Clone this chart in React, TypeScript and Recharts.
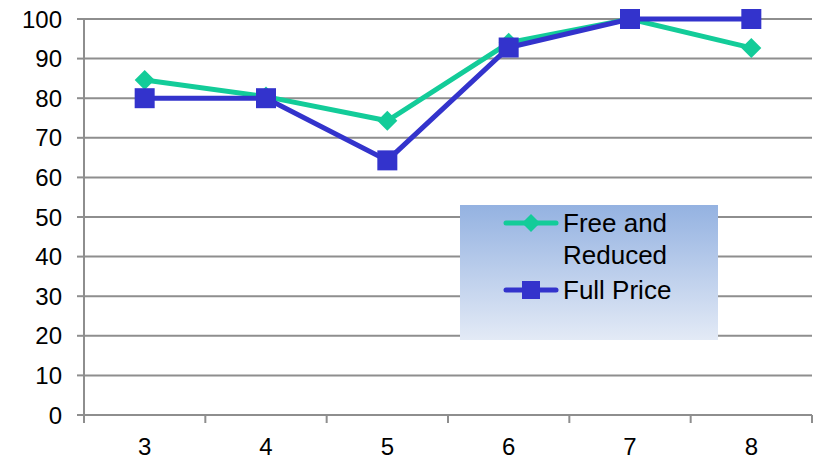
import { CartesianGrid, Legend, Line, LineChart, XAxis, YAxis } from "recharts";

const grades = [3, 4, 5, 6, 7, 8];
const freeReduced = [84.6, 80.4, 74.3, 94, 100, 92.7];
const fullPrice = [80, 80, 64.3, 92.8, 100, 100];
const yTicks = [0, 10, 20, 30, 40, 50, 60, 70, 80, 90, 100];
const gradeEdges = [2.5, 3.5, 4.5, 5.5, 6.5, 7.5, 8.5];

const green = "#13CC99";
const blue = "#3333CC";
const gridColor = "#8e8e8e";

const data = grades.map((g, i) => ({
  grade: g,
  free: freeReduced[i],
  full: fullPrice[i],
}));

const Diamond = (props: any) => {
  const { cx, cy, fill, size = 10 } = props;
  if (cx == null || cy == null) return null;
  return (
    <polygon
      points={`${cx},${cy - size} ${cx + size},${cy} ${cx},${cy + size} ${cx - size},${cy}`}
      fill={fill}
    />
  );
};

const Square = (props: any) => {
  const { cx, cy, fill, size = 10 } = props;
  if (cx == null || cy == null) return null;
  return <rect x={cx - size} y={cy - size} width={size * 2} height={size * 2} fill={fill} />;
};

const series = [
  { key: "free", name: "Free and Reduced", color: green, Marker: Diamond, legendSize: 9 },
  { key: "full", name: "Full Price", color: blue, Marker: Square, legendSize: 9 },
];

const LegendBox = () => (
  <div
    style={{
      width: 258,
      height: 135,
      boxSizing: "border-box",
      paddingTop: 2,
      paddingLeft: 43,
      background: "linear-gradient(to bottom, #94B2E1, #E3EAF6)",
      fontFamily: "'Liberation Sans', Arial, sans-serif",
      fontSize: 26,
      lineHeight: "32px",
      color: "#000",
    }}
  >
    {series.map((s, i) => (
      <div key={s.key} style={{ display: "flex", alignItems: "flex-start", marginTop: i ? 3 : 0 }}>
        <svg width={56} height={32} style={{ flex: "none" }}>
          <line x1={3} y1={16} x2={53} y2={16} stroke={s.color} strokeWidth={5} strokeLinecap="round" />
          <s.Marker cx={28} cy={16} fill={s.color} size={s.legendSize} />
        </svg>
        <div style={{ width: 140, marginLeft: 4 }}>{s.name}</div>
      </div>
    ))}
  </div>
);

export default function App() {
  return (
    <div style={{ position: "absolute", left: 0, top: 0, background: "#fff" }}>
      <LineChart width={817} height={459} data={data} margin={{ top: 19, right: 5, left: 0, bottom: 0 }}>
        <CartesianGrid horizontal vertical={false} stroke={gridColor} strokeWidth={2} />
        <XAxis
          dataKey="grade"
          type="number"
          domain={[2.5, 8.5]}
          ticks={gradeEdges}
          tickFormatter={() => ""}
          height={8}
          tickSize={8}
          stroke={gridColor}
          axisLine={{ stroke: gridColor, strokeWidth: 2 }}
          tickLine={{ stroke: gridColor, strokeWidth: 2 }}
        />
        <XAxis
          xAxisId="labels"
          dataKey="grade"
          type="number"
          domain={[2.5, 8.5]}
          ticks={grades}
          height={36}
          axisLine={false}
          tickLine={false}
          tickSize={0}
          tickMargin={15}
          tick={{ fill: "#000", fontSize: 24, fontFamily: "'Liberation Sans', Arial, sans-serif" }}
        />
        <YAxis
          domain={[0, 100]}
          ticks={yTicks}
          width={84}
          tickSize={7}
          tickMargin={15}
          axisLine={{ stroke: gridColor, strokeWidth: 2 }}
          tickLine={{ stroke: gridColor, strokeWidth: 2 }}
          tick={{ fill: "#000", fontSize: 24, fontFamily: "'Liberation Sans', Arial, sans-serif" }}
        />
        <Legend
          layout="vertical"
          align="center"
          verticalAlign="middle"
          content={<LegendBox />}
          wrapperStyle={{ left: 460, top: 205, width: 258, height: 135 }}
        />
        {series.map((s) => (
          <Line
            key={s.key}
            xAxisId="labels"
            dataKey={s.key}
            name={s.name}
            stroke={s.color}
            strokeWidth={5}
            dot={(p: any) => <s.Marker key={`${s.key}-${p.index}`} cx={p.cx} cy={p.cy} fill={s.color} size={10} />}
            activeDot={false}
            isAnimationActive={false}
          />
        ))}
      </LineChart>
    </div>
  );
}
